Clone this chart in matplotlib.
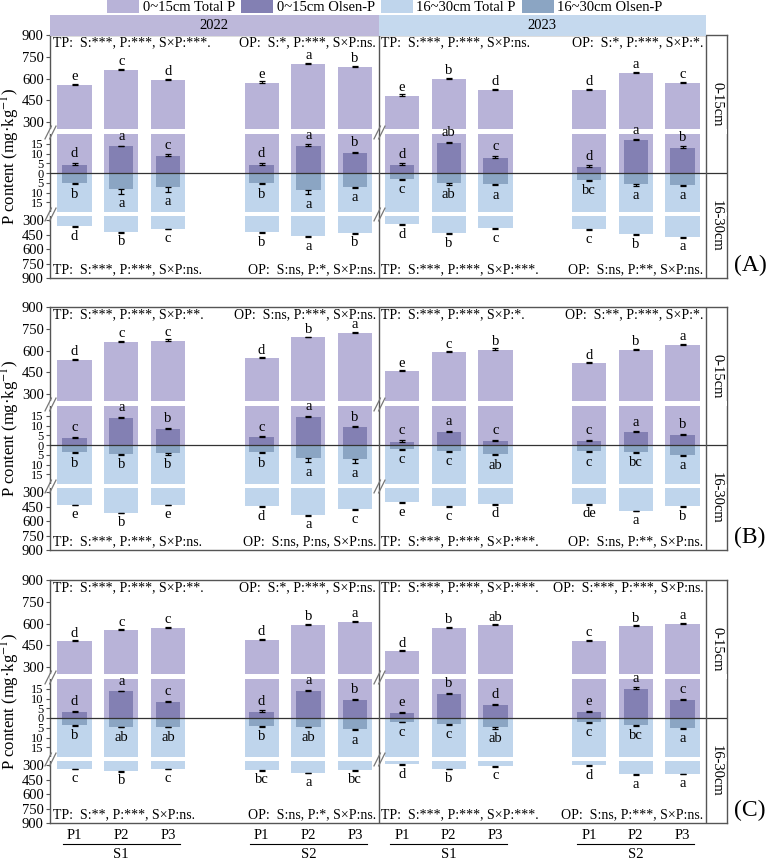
import numpy as np
import matplotlib.pyplot as plt
import matplotlib.transforms as mtransforms
from matplotlib.patches import Patch, Rectangle
from matplotlib.path import Path

plt.rcParams['font.family'] = ['Liberation Serif', 'DejaVu Serif']
plt.rcParams['mathtext.fontset'] = 'stix'

panels = ['A', 'B', 'C']
years = ['2022', '2023']
sites = ['S1', 'S2']
treatments = ['P1', 'P2', 'P3']

# order in each list: 2022 S1 P1-P3, 2022 S2 P1-P3, 2023 S1 P1-P3, 2023 S2 P1-P3
tp_top = {
    'A': [553, 660, 589, 571, 701, 676, 482, 598, 522, 522, 638, 571],
    'B': [535, 658, 669, 547, 690, 720, 456, 588, 607, 511, 607, 639],
    'C': [478, 554, 570, 489, 593, 612, 411, 572, 588, 480, 581, 600],
}
tp_top_err = {
    'A': [8, 6, 7, 9, 6, 10, 9, 7, 6, 6, 7, 8],
    'B': [6, 7, 8, 7, 6, 8, 8, 6, 7, 7, 6, 7],
    'C': [6, 6, 8, 6, 7, 6, 5, 7, 7, 6, 6, 6],
}
op_top = {
    'A': [4.3, 13.6, 8.9, 4.3, 14.1, 10.4, 3.9, 15.3, 7.5, 3.1, 16.7, 12.9],
    'B': [3.6, 13.6, 8.2, 3.9, 14.3, 9.2, 1.7, 6.5, 2.0, 1.9, 6.5, 5.1],
    'C': [3.2, 13.7, 8.3, 3.3, 14.1, 9.1, 2.6, 12.3, 6.5, 3.2, 15.0, 9.3],
}
op_top_err = {
    'A': [0.9, 0.3, 0.6, 0.9, 0.6, 0.6, 1.0, 0.7, 1.2, 0.8, 0.5, 0.7],
    'B': [0.6, 0.8, 0.6, 0.5, 0.6, 0.3, 0.8, 0.6, 0.7, 0.8, 0.5, 0.4],
    'C': [0.5, 0.4, 0.3, 0.6, 0.4, 0.8, 0.7, 0.5, 0.8, 0.6, 0.7, 0.6],
}
op_bot = {
    'A': [4.9, 8.0, 7.1, 4.9, 8.8, 7.1, 2.9, 4.9, 5.8, 3.4, 5.8, 6.0],
    'B': [3.4, 4.4, 4.3, 3.7, 6.8, 7.1, 2.0, 2.9, 4.6, 3.2, 3.4, 5.0],
    'C': [3.5, 4.4, 4.4, 3.9, 4.4, 5.7, 1.8, 3.0, 4.8, 2.1, 3.5, 5.0],
}
op_bot_err = {
    'A': [0.8, 2.6, 2.4, 0.8, 2.2, 0.6, 0.6, 1.0, 0.5, 0.5, 0.8, 0.6],
    'B': [0.8, 0.7, 0.6, 0.6, 2.0, 2.2, 0.5, 0.5, 0.6, 0.5, 0.5, 0.6],
    'C': [0.5, 0.4, 0.4, 0.5, 0.4, 0.6, 0.4, 0.5, 0.6, 0.4, 0.5, 0.6],
}
tp_bot = {
    'A': [362, 421, 390, 424, 466, 431, 343, 436, 385, 395, 447, 472],
    'B': [429, 511, 429, 447, 536, 476, 404, 447, 421, 421, 493, 447],
    'C': [335, 358, 335, 348, 376, 348, 291, 335, 307, 300, 393, 386],
}
tp_bot_err = {
    'A': [7, 8, 5, 6, 7, 8, 6, 7, 5, 7, 6, 8],
    'B': [6, 8, 6, 7, 7, 8, 6, 7, 6, 7, 6, 7],
    'C': [6, 7, 6, 7, 6, 7, 6, 7, 6, 7, 6, 7],
}

let_tp_top = {
    'A': ['e', 'c', 'd', 'e', 'a', 'b', 'e', 'b', 'd', 'd', 'a', 'c'],
    'B': ['d', 'c', 'c', 'd', 'b', 'a', 'e', 'c', 'b', 'd', 'b', 'a'],
    'C': ['d', 'c', 'c', 'd', 'b', 'a', 'd', 'b', 'ab', 'c', 'b', 'a'],
}
let_op_top = {
    'A': ['d', 'a', 'c', 'd', 'a', 'b', 'd', 'ab', 'c', 'd', 'a', 'b'],
    'B': ['c', 'a', 'b', 'c', 'a', 'b', 'c', 'a', 'c', 'c', 'a', 'b'],
    'C': ['d', 'a', 'c', 'd', 'a', 'b', 'e', 'b', 'd', 'e', 'a', 'c'],
}
let_op_bot = {
    'A': ['b', 'a', 'a', 'b', 'a', 'a', 'c', 'ab', 'a', 'bc', 'a', 'a'],
    'B': ['b', 'b', 'b', 'b', 'a', 'a', 'c', 'c', 'ab', 'c', 'bc', 'a'],
    'C': ['b', 'ab', 'ab', 'b', 'ab', 'a', 'c', 'c', 'ab', 'c', 'bc', 'a'],
}
let_tp_bot = {
    'A': ['d', 'b', 'c', 'b', 'a', 'b', 'd', 'b', 'c', 'c', 'b', 'a'],
    'B': ['e', 'b', 'e', 'd', 'a', 'c', 'e', 'c', 'd', 'de', 'a', 'b'],
    'C': ['c', 'b', 'c', 'bc', 'a', 'bc', 'd', 'b', 'c', 'd', 'a', 'a'],
}

# significance text: top 2022 TP/OP, top 2023 TP/OP, bottom 2022 TP/OP, bottom 2023 TP/OP
stats = {
    'A': ['TP:  S:***, P:***, S×P:***.', 'OP:  S:*, P:***, S×P:ns.',
          'TP:  S:***, P:***, S×P:ns.', 'OP:  S:*, P:***, S×P:*.',
          'TP:  S:***, P:***, S×P:ns.', 'OP:  S:ns, P:*, S×P:ns.',
          'TP:  S:***, P:***, S×P:***.', 'OP:  S:ns, P:**, S×P:ns.'],
    'B': ['TP:  S:***, P:***, S×P:**.', 'OP:  S:ns, P:***, S×P:ns.',
          'TP:  S:***, P:***, S×P:*.', 'OP:  S:**, P:***, S×P:*.',
          'TP:  S:***, P:***, S×P:ns.', 'OP:  S:ns, P:ns, S×P:ns.',
          'TP:  S:***, P:***, S×P:***.', 'OP:  S:ns, P:**, S×P:ns.'],
    'C': ['TP:  S:***, P:***, S×P:**.', 'OP:  S:*, P:***, S×P:ns.',
          'TP:  S:***, P:***, S×P:***.', 'OP:  S:***, P:***, S×P:ns.',
          'TP:  S:**, P:***, S×P:ns.', 'OP:  S:ns, P:*, S×P:ns.',
          'TP:  S:***, P:***, S×P:***.', 'OP:  S:ns, P:***, S×P:ns.'],
}

c_tp_top = '#b8b3d8'
c_op_top = '#8380b3'
c_tp_bot = '#bfd5ec'
c_op_bot = '#8ba5c3'
line_c = '#555555'

# broken y axis: 0-20 and 250-900 shown, 20-250 squeezed into a small gap
brk_data = [-900, -250, -20, 0, 20, 250, 900]
brk_px = [-105, -42.5, -39, 0, 39, 43.7, 138]


def fwd(y):
    return np.interp(y, brk_data, brk_px)


def inv(p):
    return np.interp(p, brk_px, brk_data)


xpos = [yi * 7 + si * 4 + pi for yi in range(2) for si in range(2) for pi in range(3)]
x0, x1 = -0.524, 13.95

brk_mark = Path([(-2.5, -3), (0.5, 3), (-0.5, -3), (2.5, 3)],
                [Path.MOVETO, Path.LINETO, Path.MOVETO, Path.LINETO])

fig = plt.figure(figsize=(7.67, 8.6), dpi=100)
tops = [35, 307, 580]
axes = []
for key, top in zip(panels, tops):
    ax = fig.add_axes([50 / 767, 1 - (top + 243) / 860, 677 / 767, 243 / 860])
    axes.append(ax)
    ax.set_yscale('function', functions=(fwd, inv))
    ax.set_xlim(x0, x1)
    ax.set_ylim(-900, 900)

    ax.bar(xpos, tp_top[key], width=0.73, color=c_tp_top, zorder=1)
    ax.bar(xpos, [-v for v in tp_bot[key]], width=0.73, color=c_tp_bot, zorder=1)
    ax.bar(xpos, op_top[key], width=0.52, color=c_op_top, zorder=2)
    ax.bar(xpos, [-v for v in op_bot[key]], width=0.52, color=c_op_bot, zorder=2)

    ax.axhspan(20, 250, color='white', lw=0, zorder=3)
    ax.axhspan(-250, -20, color='white', lw=0, zorder=3)

    n = len(xpos)
    eb = dict(fmt='none', ecolor='black', elinewidth=0.9, capsize=2.5, capthick=0.9, zorder=4)
    ax.errorbar(xpos, tp_top[key], yerr=[[0] * n, tp_top_err[key]], **eb)
    ax.errorbar(xpos, op_top[key], yerr=[[0] * n, op_top_err[key]], **eb)
    ax.errorbar(xpos, [-v for v in op_bot[key]], yerr=[op_bot_err[key], [0] * n], **eb)
    ax.errorbar(xpos, [-v for v in tp_bot[key]], yerr=[tp_bot_err[key], [0] * n], **eb)

    for i, x in enumerate(xpos):
        ax.annotate(let_tp_top[key][i], (x, tp_top[key][i] + tp_top_err[key][i]),
                    xytext=(0, 0.5), textcoords='offset points', ha='center', va='bottom', fontsize=10.5)
        ax.annotate(let_op_top[key][i], (x, op_top[key][i] + op_top_err[key][i]),
                    xytext=(0, 2), textcoords='offset points', ha='center', va='bottom', fontsize=10.5)
        ax.annotate(let_op_bot[key][i], (x, -op_bot[key][i] - op_bot_err[key][i]),
                    xytext=(0, -2.5), textcoords='offset points', ha='center', va='top', fontsize=10.5)
        ax.annotate(let_tp_bot[key][i], (x, -tp_bot[key][i] - tp_bot_err[key][i]),
                    xytext=(0, -2), textcoords='offset points', ha='center', va='top', fontsize=10.5)

    ax.axhline(0, color='#333333', lw=0.9, zorder=5)
    ax.axvline(6.5, color=line_c, lw=1, zorder=5)
    ax.axvline(13.5, color=line_c, lw=1, zorder=5)
    for sp in ax.spines.values():
        sp.set_color(line_c)
        sp.set_linewidth(1)
    ax.plot([x0, x0, 6.5, 6.5], [135, -135, 135, -135], ls='none', marker=brk_mark, ms=10,
            mfc='none', mec='#777777', mew=0.9, clip_on=False, zorder=6)

    ticks = [-900, -750, -600, -450, -300, -15, -10, -5, 0, 5, 10, 15, 300, 450, 600, 750, 900]
    ax.set_yticks(ticks)
    ax.set_yticklabels([str(abs(t)) for t in ticks])
    ax.yaxis.set_minor_locator(plt.NullLocator())
    ax.tick_params(axis='y', direction='out', length=3, width=0.8, labelsize=10.5, pad=1.5, color=line_c)
    for t, lab in zip(ticks, ax.get_yticklabels()):
        if abs(t) <= 15:
            lab.set_fontsize(9)
    ax.set_ylabel('P content (mg·kg$^{-1}$)', fontsize=12)
    ax.yaxis.set_label_coords(-0.041, 0.5)

    trans = mtransforms.blended_transform_factory(ax.transData, ax.transAxes)
    s = stats[key]
    ax.text(-0.46, 0.997, s[0], transform=trans, ha='left', va='top', fontsize=10)
    ax.text(6.45, 0.997, s[1], transform=trans, ha='right', va='top', fontsize=10)
    ax.text(6.55, 0.997, s[2], transform=trans, ha='left', va='top', fontsize=10)
    ax.text(13.45, 0.997, s[3], transform=trans, ha='right', va='top', fontsize=10)
    ax.text(-0.46, 0.008, s[4], transform=trans, ha='left', va='bottom', fontsize=10)
    ax.text(6.45, 0.008, s[5], transform=trans, ha='right', va='bottom', fontsize=10)
    ax.text(6.55, 0.008, s[6], transform=trans, ha='left', va='bottom', fontsize=10)
    ax.text(13.45, 0.008, s[7], transform=trans, ha='right', va='bottom', fontsize=10)

    ax.text(13.73, 420, '0-15cm', rotation=270, ha='center', va='center', fontsize=10.5)
    ax.text(13.73, -360, '16-30cm', rotation=270, ha='center', va='center', fontsize=10.5)
    fig.text(750 / 767, 1 - (top + 230) / 860, f'({key})', ha='center', va='center', fontsize=17)

    if key == 'C':
        ax.set_xticks(xpos)
        ax.set_xticklabels(treatments * 4)
        ax.tick_params(axis='x', length=0, labelsize=10.5, pad=4)
        for yi in range(2):
            for si in range(2):
                mid = yi * 7 + si * 4 + 1
                ax.plot([mid - 1.25, mid + 1.25], [-0.086, -0.086], color='black', lw=0.8,
                        transform=trans, clip_on=False)
                ax.text(mid, -0.13, sites[si], transform=trans, ha='center', va='center', fontsize=10.5)
    else:
        ax.set_xticks([])

# year header bands above panel A
axA = axes[0]
btrans = mtransforms.blended_transform_factory(axA.transData, fig.transFigure)
band_colors = ['#bdb8da', '#c5d9ee']
for yi, yr in enumerate(years):
    left = x0 if yi == 0 else 6.5
    right = 6.5 if yi == 0 else 13.5
    fig.add_artist(Rectangle((left, 1 - 36 / 860), right - left, 21 / 860, facecolor=band_colors[yi],
                             edgecolor='none', transform=btrans))
    fig.text((left + right) / 2, 1 - 25.5 / 860, yr, transform=btrans, ha='center', va='center', fontsize=10.5)

handles = [Patch(facecolor=c, edgecolor='none') for c in [c_tp_top, c_op_top, c_tp_bot, c_op_bot]]
labels = ['0~15cm Total P', '0~15cm Olsen-P', '16~30cm Total P', '16~30cm Olsen-P']
fig.legend(handles, labels, loc='upper center', bbox_to_anchor=(0.502, 1.003), ncol=4, frameon=False,
           fontsize=10.5, handlelength=2.2, handleheight=1.1, handletextpad=0.25, columnspacing=0.4,
           borderaxespad=0, borderpad=0.1)

fig.savefig('out.png', dpi=100)
